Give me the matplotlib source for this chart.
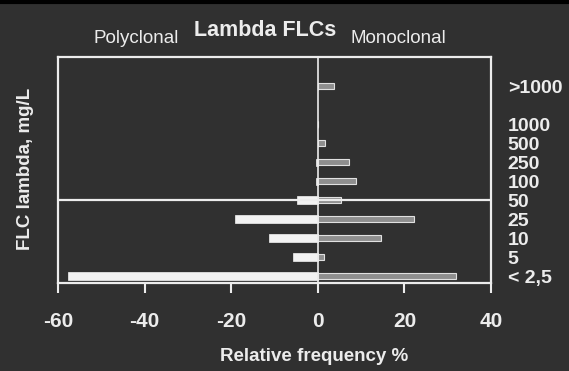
import matplotlib.pyplot as plt

# FLC lambda concentration classes (bottom to top) and their row positions
categories = ["< 2,5", "5", "10", "25", "50", "100", "250", "500", "1000", ">1000"]
rows = [0, 1, 2, 3, 4, 5, 6, 7, 8, 10]

# Relative frequency % (polyclonal drawn to the left as negative values)
polyclonal = [-57.7, -5.8, -11.3, -19.2, -4.9, -0.5, -0.5, 0, 0, 0]
monoclonal = [31.9, 1.4, 14.5, 22.2, 5.3, 8.9, 7.2, 1.6, 0, 3.7]

xticks = [-60, -40, -20, 0, 20, 40]

bg = "#303030"
fg = "#ececec"
plt.rcParams["font.family"] = ["Liberation Sans", "DejaVu Sans"]

fig = plt.figure(figsize=(5.69, 3.71), dpi=100, facecolor=bg)
ax = fig.add_axes([0.102, 0.237, 0.761, 0.609], facecolor=bg)

ax.barh(rows, polyclonal, height=0.38, color="#f2f2f2", edgecolor="#f2f2f2", linewidth=0.5)
ax.barh(rows, monoclonal, height=0.34, color="#8e8e8e", edgecolor="#e0e0e0", linewidth=0.8)

ax.axvline(0, color=fg, lw=1.2)
ax.axhline(4, color=fg, lw=1.6)

ax.set_xlim(-60, 40)
ax.set_ylim(-0.37, 11.53)
ax.set_xticks(xticks)
ax.set_xticklabels([str(t) for t in xticks], fontsize=15, fontweight="bold", color=fg)
ax.tick_params(axis="x", direction="out", length=7, width=1.5, color=fg, pad=14)

ax.yaxis.tick_right()
ax.set_yticks(rows)
ax.set_yticklabels(categories, fontsize=14, fontweight="bold", color=fg)
ax.tick_params(axis="y", length=0, pad=12)

for s in ax.spines.values():
    s.set_color(fg)
    s.set_linewidth(1.6)

fig.text(0.552, 0.04, "Relative frequency %", ha="center", va="center",
         fontsize=13.5, fontweight="bold", color=fg)
fig.text(0.045, 0.545, "FLC lambda, mg/L", rotation=90, ha="center", va="center",
         fontsize=13.5, fontweight="bold", color=fg)

fig.text(0.466, 0.918, "Lambda FLCs", ha="center", va="center", fontsize=15.5, fontweight="bold", color=fg)
fig.text(0.24, 0.897, "Polyclonal", ha="center", va="center", fontsize=13.5, color=fg)
fig.text(0.7, 0.897, "Monoclonal", ha="center", va="center", fontsize=13.5, color=fg)

# black rule along the top edge of the scan
fig.add_artist(plt.Line2D([0, 1], [0.995, 0.995], color="black", lw=3, transform=fig.transFigure))

fig.savefig("out.png", dpi=100, facecolor=bg)
